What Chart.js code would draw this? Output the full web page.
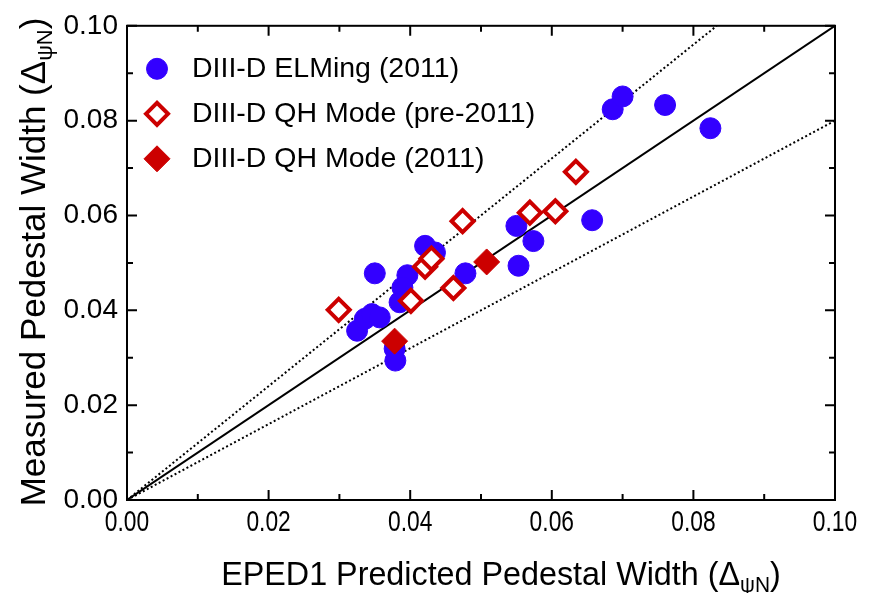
<!DOCTYPE html>
<html>
<head>
<meta charset="utf-8">
<script src="https://cdn.jsdelivr.net/npm/chart.js@4.4.1/dist/chart.umd.min.js"></script>
<style>
  html, body { margin: 0; padding: 0; background: #fff; }
  #wrap { width: 871px; height: 593px; }
</style>
</head>
<body>
<div id="wrap"><canvas id="pedestalChart"></canvas></div>
<script>
// EPED1 predicted (x) vs measured (y) pedestal width
const elmingX = [0.0350, 0.0421, 0.0435, 0.0396, 0.0389, 0.0385, 0.0325, 0.0336, 0.0346, 0.0357, 0.0378, 0.0379, 0.0478, 0.0550, 0.0574, 0.0553, 0.0657, 0.0686, 0.0700, 0.0760, 0.0824];
const elmingY = [0.0478, 0.0536, 0.0522, 0.0474, 0.0448, 0.0417, 0.0357, 0.0382, 0.0392, 0.0385, 0.0319, 0.0294, 0.0478, 0.0578, 0.0546, 0.0494, 0.0590, 0.0824, 0.0851, 0.0833, 0.0784];

const qhPreX = [0.0299, 0.0474, 0.0421, 0.0430, 0.0401, 0.0461, 0.0569, 0.0605, 0.0634];
const qhPreY = [0.0401, 0.0588, 0.0492, 0.0509, 0.0420, 0.0447, 0.0606, 0.0609, 0.0692];

const qh2011X = [0.0378, 0.0508];
const qh2011Y = [0.0335, 0.0502];

// reference lines: measured = k * predicted
const unityLine = [[0, 0], [0.10, 0.10]];
const upperLine = [[0, 0], [0.0833, 0.10]];
const lowerLine = [[0, 0], [0.10, 0.08]];

const tickValues = [0, 0.01, 0.02, 0.03, 0.04, 0.05, 0.06, 0.07, 0.08, 0.09, 0.10];
const labelValues = [0, 0.02, 0.04, 0.06, 0.08, 0.10];
const legendLabels = ['DIII-D ELMing (2011)', 'DIII-D QH Mode (pre-2011)', 'DIII-D QH Mode (2011)'];

const BLUE = '#3300ff';
const RED = '#cc0000';
const SANS = "'Liberation Sans', Arial, Helvetica, sans-serif";

function toPoints(xs, ys) {
    return xs.map((x, i) => ({ x: x, y: ys[i] }));
}
function linePoints(pairs) {
    return pairs.map(p => ({ x: p[0], y: p[1] }));
}

// text with "(Δ_ψN)" subscript at the end, centred on x
function drawSubTitle(ctx, main, size, subSize, x, y, squeeze) {
    const font = size + 'px ' + SANS;
    const subFont = subSize + 'px ' + SANS;
    ctx.save();
    ctx.translate(x, y);
    ctx.scale(squeeze, 1);
    ctx.font = font;
    const w1 = ctx.measureText(main + '(Δ').width;
    ctx.font = subFont;
    const w2 = ctx.measureText('ψN').width;
    ctx.font = font;
    const w3 = ctx.measureText(')').width;
    let cx = -(w1 + w2 + w3) / 2;
    ctx.textBaseline = 'alphabetic';
    ctx.textAlign = 'left';
    ctx.fillText(main + '(Δ', cx, 0);
    cx += w1;
    ctx.font = subFont;
    ctx.fillText('ψN', cx, 7);
    cx += w2;
    ctx.font = font;
    ctx.fillText(')', cx, 0);
    ctx.restore();
}

const framePlugin = {
    id: 'frame',
    afterDatasetsDraw(chart) {
        const ctx = chart.ctx;
        const a = chart.chartArea;
        const xs = chart.scales.x, ys = chart.scales.y;
        ctx.save();
        ctx.strokeStyle = '#000';
        ctx.lineWidth = 2;
        ctx.strokeRect(a.left, a.top, a.right - a.left, a.bottom - a.top);
        // inward ticks on all four sides
        tickValues.forEach((v, i) => {
            const len = i % 2 === 0 ? 10 : 6;
            const px = xs.getPixelForValue(v);
            const py = ys.getPixelForValue(v);
            ctx.beginPath();
            ctx.moveTo(px, a.bottom); ctx.lineTo(px, a.bottom - len);
            ctx.moveTo(px, a.top); ctx.lineTo(px, a.top + len);
            ctx.moveTo(a.left, py); ctx.lineTo(a.left + len, py);
            ctx.moveTo(a.right, py); ctx.lineTo(a.right - len, py);
            ctx.stroke();
        });

        // x tick labels, condensed like the original
        ctx.fillStyle = '#000';
        labelValues.forEach(v => {
            ctx.save();
            ctx.translate(xs.getPixelForValue(v), a.bottom + 31);
            ctx.scale(0.76, 1);
            ctx.font = '30px ' + SANS;
            ctx.textAlign = 'center';
            ctx.textBaseline = 'alphabetic';
            ctx.fillText(v.toFixed(2), 0, 0);
            ctx.restore();
        });

        // legend inside plot
        const sets = chart.data.datasets.slice(0, 3);
        sets.forEach((ds, i) => {
            const ly = a.top + 43 + i * 45;
            const lx = a.left + 30;
            ctx.save();
            ctx.fillStyle = ds.backgroundColor;
            ctx.strokeStyle = ds.borderColor;
            ctx.lineWidth = ds.borderWidth;
            Chart.helpers.drawPoint(ctx, {
                pointStyle: ds.pointStyle,
                radius: ds.pointRadius,
                borderWidth: ds.borderWidth,
                rotation: 0
            }, lx, ly);
            ctx.restore();
            ctx.fillStyle = '#000';
            ctx.font = '28.5px ' + SANS;
            ctx.textAlign = 'left';
            ctx.textBaseline = 'middle';
            ctx.fillText(legendLabels[i], lx + 35, ly);
        });

        // axis titles
        ctx.fillStyle = '#000';
        drawSubTitle(ctx, 'EPED1 Predicted Pedestal Width ', 34, 22, 501, 585, 0.95);
        ctx.save();
        ctx.translate(45, 262);
        ctx.rotate(-Math.PI / 2);
        drawSubTitle(ctx, 'Measured Pedestal Width ', 35, 22, 0, 0, 1);
        ctx.restore();
        ctx.restore();
    }
};

document.addEventListener('DOMContentLoaded', function() {
    const ctx = document.getElementById('pedestalChart').getContext('2d');
    new Chart(ctx, {
        type: 'scatter',
        data: {
            datasets: [{
                label: legendLabels[0],
                data: toPoints(elmingX, elmingY),
                pointStyle: 'circle',
                pointRadius: 10.5,
                backgroundColor: BLUE,
                borderColor: BLUE,
                borderWidth: 1,
                order: 1
            }, {
                label: legendLabels[1],
                data: toPoints(qhPreX, qhPreY),
                pointStyle: 'rectRot',
                pointRadius: 11,
                backgroundColor: '#ffffff',
                borderColor: RED,
                borderWidth: 4,
                order: 0
            }, {
                label: legendLabels[2],
                data: toPoints(qh2011X, qh2011Y),
                pointStyle: 'rectRot',
                pointRadius: 13,
                backgroundColor: RED,
                borderColor: RED,
                borderWidth: 1,
                order: 0
            }, {
                type: 'line',
                data: linePoints(unityLine),
                borderColor: '#000',
                borderWidth: 2,
                pointRadius: 0,
                order: 5
            }, {
                type: 'line',
                data: linePoints(upperLine),
                borderColor: '#000',
                borderWidth: 2,
                borderDash: [2, 2.5],
                pointRadius: 0,
                order: 5
            }, {
                type: 'line',
                data: linePoints(lowerLine),
                borderColor: '#000',
                borderWidth: 2,
                borderDash: [2, 2.5],
                pointRadius: 0,
                order: 5
            }]
        },
        options: {
            responsive: true,
            maintainAspectRatio: false,
            animation: false,
            layout: { padding: { left: 0, top: 24, right: 36, bottom: 0 } },
            plugins: {
                legend: { display: false },
                tooltip: { enabled: false }
            },
            scales: {
                x: {
                    type: 'linear',
                    min: 0,
                    max: 0.10,
                    grid: { display: false, drawTicks: false },
                    border: { display: false },
                    afterFit: function(scale) { scale.height = 93; },
                    ticks: { display: false, stepSize: 0.02 }
                },
                y: {
                    type: 'linear',
                    min: 0,
                    max: 0.10,
                    grid: { display: false, drawTicks: false },
                    border: { display: false },
                    afterFit: function(scale) { scale.width = 127; },
                    ticks: {
                        stepSize: 0.02,
                        padding: 9,
                        color: '#000',
                        font: { family: SANS, size: 28 },
                        callback: v => v.toFixed(2)
                    }
                }
            }
        },
        plugins: [framePlugin]
    });
});
</script>
</body>
</html>
